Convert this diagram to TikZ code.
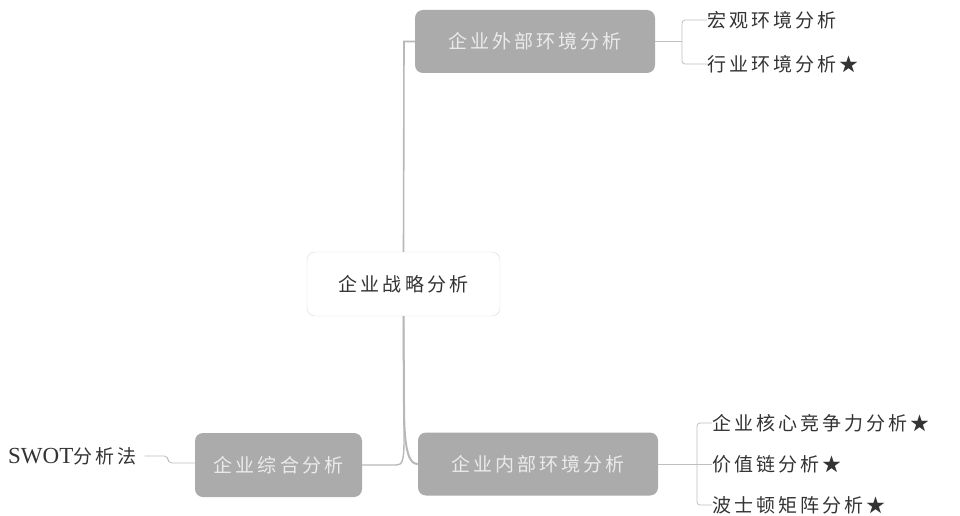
\documentclass[tikz,border=0pt]{standalone}
\usepackage{fontspec}
\setmainfont{Liberation Serif}
\newfontfamily\cjk[LetterSpace=16]{Noto Sans CJK SC}
\definecolor{boxgray}{HTML}{ABABAB}
\definecolor{txtgray}{HTML}{333333}
\definecolor{linegray}{HTML}{B8B8B8}
\begin{document}
\begin{tikzpicture}[x=1pt,y=-1pt,
  every node/.style={font=\fontsize{19}{22}\selectfont\cjk},
  graybox/.style={fill=boxgray,rounded corners=8pt,minimum width=240pt,minimum height=63pt,text=white!92!black,inner sep=0pt},
  centerbox/.style={fill=white,draw=black!15,rounded corners=8pt,minimum width=193pt,minimum height=64pt,text=txtgray,inner sep=0pt},
  leaf/.style={anchor=west,text=txtgray,inner sep=0pt},
  trunk/.style={draw=linegray,line width=2pt},
  twig/.style={draw=black!25,line width=0.8pt}]
\useasboundingbox (0,0) rectangle (960,516);
\node[graybox] (ext) at (535,41.5) {企业外部环境分析};
\node[centerbox] (cen) at (403.5,284) {企业战略分析};
\node[graybox,minimum width=167pt,minimum height=64pt] (syn) at (278.5,465) {企业综合分析};
\node[graybox] (int) at (538,464) {企业内部环境分析};
\node[leaf] (macro) at (707,20) {宏观环境分析};
\node[leaf] (ind) at (707,64) {行业环境分析★};
\node[leaf] (core) at (712,423) {企业核心竞争力分析★};
\node[leaf] (val) at (712,464) {价值链分析★};
\node[leaf] (bcg) at (712,505) {波士顿矩阵分析★};
\node[anchor=west,text=txtgray,inner sep=0pt] (swot) at (8,456) {{\fontsize{23}{26}\selectfont\rmfamily SWOT}分析法};
% trunk
\draw[trunk,line width=1.6pt] (cen.north) -- (404,41.5) -- (ext.west);
\draw[trunk] (cen.south) -- (404,405) .. controls (404,455) and (410,464) .. (int.west);
\draw[trunk,line width=1.4pt] (cen.south) -- (404,440) .. controls (404,462) and (402,465) .. (396,465) -- (syn.east);
% right brackets
\coordinate (b1) at (682,41.5);
\draw[twig] (ext.east) -- (b1);
\draw[twig,rounded corners=3pt] (macro.west) -- (682,20) -- (682,64) -- (ind.west);
\coordinate (b2) at (697,464);
\draw[twig] (int.east) -- (b2);
\draw[twig,rounded corners=3pt] (core.west) -- (697,423) -- (697,505) -- (bcg.west);
\draw[twig] (b2) -- (val.west);
% swot
\draw[twig,rounded corners=4pt] ([xshift=8pt]swot.east) -- (168,456) -- (168,463) -- (syn.west|-0,463);
\end{tikzpicture}
\end{document}
